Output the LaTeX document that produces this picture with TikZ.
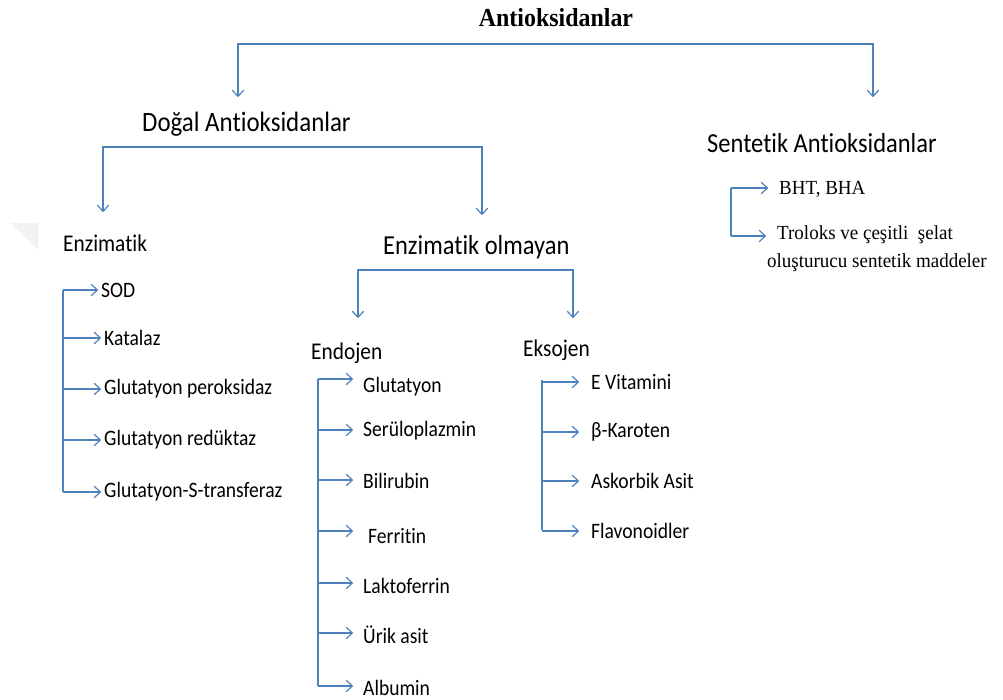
\documentclass[tikz,border=0pt]{standalone}
\usepackage{fontspec}
\setmainfont[Ligatures=NoCommon, FakeStretch=0.89]{Carlito}
\newfontfamily\timesf[FakeStretch=0.95]{Liberation Serif}
\newfontfamily\timest[FakeStretch=0.92]{Liberation Serif}
\usetikzlibrary{arrows.meta}
\definecolor{arrblue}{RGB}{79,129,189}
\tikzset{
  tip/.tip={Straight Barb[length=6pt,width=11pt,round]},
  arr/.style={draw=arrblue, line width=1.2pt, -tip},
  arrboth/.style={draw=arrblue, line width=1.2pt, tip-tip},
  head/.style={inner sep=0pt, anchor=west, font=\fontsize{27.5}{30}\selectfont},
  sub/.style={inner sep=0pt, anchor=west, font=\fontsize{24}{27}\selectfont},
  item/.style={inner sep=0pt, anchor=west, font=\fontsize{22}{25}\selectfont},
  titem/.style={inner sep=0pt, anchor=west, align=left, font=\timesf\fontsize{20}{28}\selectfont},
}
\begin{document}
\begin{tikzpicture}[x=1pt,y=-1pt]
\useasboundingbox (0,0) rectangle (1003,700);
\fill[gray!10] (10,223) -- (38,223) -- (38,250) -- cycle;
% title
\node[inner sep=0pt, font=\timest\bfseries\fontsize{26}{28}\selectfont] (title) at (556,18) {Antioksidanlar};
% level 1
\node[head, font=\fontsize{28}{30}\selectfont] (dogal) at (142,124) {Doğal Antioksidanlar};
\node[head] (sent) at (707,143) {Sentetik Antioksidanlar};
\coordinate (t1) at (238,97);
\coordinate (t1c) at (238,44);
\coordinate (t2c) at (873,44);
\coordinate (t2) at (873,97);
\draw[arrboth] (t1) -- (t1c) -- (t2c) -- (t2);
% level 2
\node[sub] (enz) at (63,243) {Enzimatik};
\node[head] (enzol) at (383,247) {Enzimatik olmayan};
\coordinate (d1) at (103,212);
\coordinate (d1c) at (103,147);
\coordinate (d2c) at (482,147);
\coordinate (d2) at (482,215);
\draw[arrboth] (d1) -- (d1c) -- (d2c) -- (d2);
% enzimatik list
\node[item] (sod) at (101,290) {SOD};
\node[item] (kat) at (104,338) {Katalaz};
\node[item] (gp) at (104,389) {Glutatyon peroksidaz};
\node[item] (gr) at (104,440) {Glutatyon redüktaz};
\node[item] (gs) at (104,492) {Glutatyon-S-transferaz};
\coordinate (ez0) at (63,290);
\coordinate (ez4) at (63,492);
\draw[arrblue, line width=1.2pt] (ez0) -- (ez4);
\foreach \n in {sod,kat,gp,gr,gs}{
  \draw[arr, shorten >=3pt] (ez0 |- \n.west) -- (\n.west);
}
% enzimatik olmayan bracket
\node[sub] (endo) at (311,353) {Endojen};
\node[sub] (ekso) at (523,350) {Eksojen};
\coordinate (o1) at (358,318);
\coordinate (o1c) at (358,270);
\coordinate (o2c) at (573,270);
\coordinate (o2) at (573,318);
\draw[arrboth] (o1) -- (o1c) -- (o2c) -- (o2);
% endojen list
\node[item] (gl) at (363,387) {Glutatyon};
\node[item] (ser) at (363,431) {Serüloplazmin};
\node[item] (bil) at (363,481) {Bilirubin};
\node[item] (fer) at (368,536) {Ferritin};
\node[item] (lak) at (363,586) {Laktoferrin};
\node[item] (uri) at (363,635) {Ürik asit};
\node[item] (alb) at (363,688) {Albumin};
\coordinate (en0) at (318,379);
\coordinate (en1) at (318,430);
\coordinate (en2) at (318,480);
\coordinate (en3) at (318,531);
\coordinate (en4) at (318,583);
\coordinate (en5) at (318,633);
\coordinate (en6) at (318,686);
\draw[arrblue, line width=1.2pt] (en0) -- (en6);
\draw[arr] (en0) -- ([xshift=-10pt]gl.west |- en0);
\draw[arr] (en1) -- ([xshift=-10pt]ser.west |- en1);
\draw[arr] (en2) -- ([xshift=-10pt]bil.west |- en2);
\draw[arr] (en3) -- ([xshift=-15pt]fer.west |- en3);
\draw[arr] (en4) -- ([xshift=-10pt]lak.west |- en4);
\draw[arr] (en5) -- ([xshift=-10pt]uri.west |- en5);
\draw[arr] (en6) -- ([xshift=-10pt]alb.west |- en6);
% eksojen list
\node[item] (ev) at (591,382) {E Vitamini};
\node[item] (bk) at (591,432) {β-Karoten};
\node[item] (aa) at (591,481) {Askorbik Asit};
\node[item] (fl) at (591,531) {Flavonoidler};
\coordinate (ek0) at (542,380);
\coordinate (ek3) at (542,530);
\draw[arrblue, line width=1.2pt] (ek0) -- (ek3);
\foreach \n in {ev,bk,aa,fl}{
  \draw[arr, shorten >=12pt] (ek0 |- \n.west) -- (\n.west);
}
% sentetik list
\node[titem] (bht) at (779,189) {BHT, BHA};
\node[titem, anchor=north west] (tro) at (767,225) {\hspace{10pt}Troloks ve çeşitli\ \ şelat\\oluşturucu sentetik maddeler};
\coordinate (s0) at (731,188);
\coordinate (s1) at (731,236);
\draw[arrblue, line width=1.2pt] (s0) -- (s1);
\draw[arr] (s0) -- ([xshift=-11pt]bht.west |- s0);
\draw[arr] (s1) -- ([xshift=-1pt]tro.west |- s1);
\end{tikzpicture}
\end{document}
